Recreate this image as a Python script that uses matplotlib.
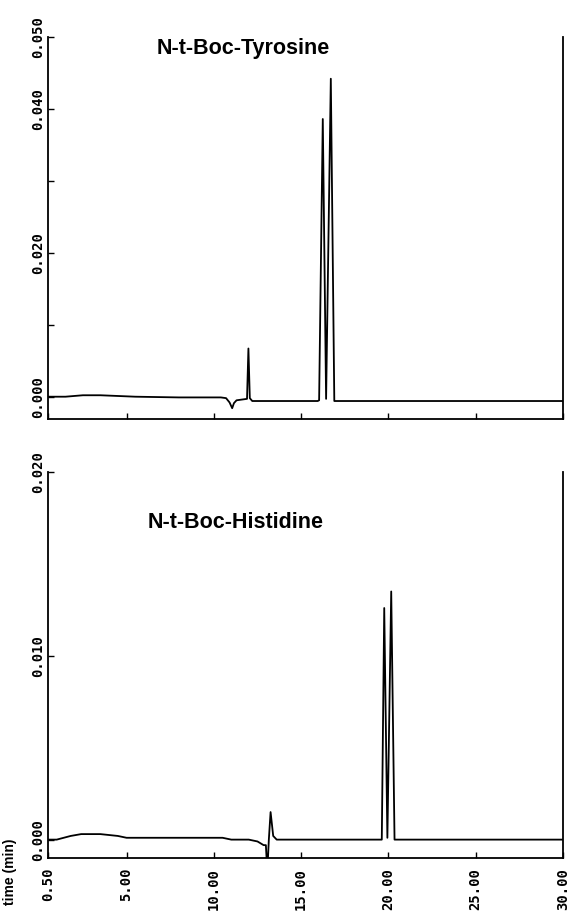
import matplotlib.pyplot as plt

# N-t-Boc-Tyrosine trace (time in min, absorbance)
tyr_time = [0.5, 1.5, 2.5, 3.5, 4.5, 5.5, 8.0, 10.4, 10.7, 10.9, 11.05, 11.15, 11.3,
            11.6, 11.9, 11.98, 12.06, 12.2, 14.0, 15.95, 16.03, 16.24, 16.43, 16.70,
            16.90, 17.5, 20.0, 25.0, 30.0]
tyr_abs = [0.0000, 0.0000, 0.0002, 0.0002, 0.0001, 0.0000, -0.0001, -0.0001, -0.0002,
           -0.0008, -0.0016, -0.0009, -0.0005, -0.0004, -0.0003, 0.0067, -0.0002,
           -0.0006, -0.0006, -0.0006, -0.0005, 0.0386, -0.0003, 0.0442, -0.0006,
           -0.0006, -0.0006, -0.0006, -0.0006]

# N-t-Boc-Histidine trace
his_time = [0.5, 1.0, 1.8, 2.4, 3.5, 4.5, 5.0, 8.0, 10.5, 11.0, 12.0, 12.5, 12.85,
            12.98, 13.02, 13.1, 13.15, 13.25, 13.4, 13.6, 17.0, 19.5, 19.62, 19.76,
            19.94, 20.16, 20.35, 25.0, 30.0]
his_abs = [0.0000, 0.0000, 0.0002, 0.0003, 0.0003, 0.0002, 0.0001, 0.0001, 0.0001,
           0.0000, 0.0000, -0.0001, -0.0003, -0.0003, -0.0010, -0.0010, 0.0000,
           0.0015, 0.0002, 0.0000, 0.0000, 0.0000, 0.0000, 0.0126, 0.0001, 0.0135,
           0.0000, 0.0000, 0.0000]

xticks = [0.5, 5, 10, 15, 20, 25, 30]
xticklabels = ['0.50', '5.00', '10.00', '15.00', '20.00', '25.00', '30.00']
tyr_yticks = [0.0, 0.01, 0.02, 0.03, 0.04, 0.05]
tyr_yticklabels = ['0.000', '', '0.020', '', '0.040', '0.050']
his_yticks = [0.0, 0.01, 0.02]
his_yticklabels = ['0.000', '0.010', '0.020']

mono = {'family': 'DejaVu Sans Mono', 'weight': 'bold', 'size': 10}

fig = plt.figure(figsize=(5.69, 9.14), dpi=100)
ax1 = fig.add_axes([48/569, 1-419/914, 515/569, 382/914])
ax2 = fig.add_axes([48/569, 1-858/914, 515/569, 386/914])


def style(ax):
    ax.spines['top'].set_visible(False)
    for s in ['left', 'bottom', 'right']:
        ax.spines[s].set_linewidth(1.3)
    ax.set_xlim(0.5, 30)
    ax.set_xticks(xticks)
    ax.tick_params(direction='in', length=4.5, width=1.0)
    ax.tick_params(axis='y', pad=2)
    ax.tick_params(axis='x', pad=7)


ax1.plot(tyr_time, tyr_abs, color='black', lw=1.3)
style(ax1)
ax1.set_ylim(-0.0031, 0.050)
ax1.set_yticks(tyr_yticks)
ax1.set_yticklabels(tyr_yticklabels, rotation=90, va='center', fontdict=mono)
ax1.set_xticklabels([])
ax1.text(0.21, 0.969, 'N-t-Boc-Tyrosine', transform=ax1.transAxes, fontsize=15.5,
         fontweight='bold', family='Liberation Sans', va='center', ha='left')

ax2.plot(his_time, his_abs, color='black', lw=1.3)
style(ax2)
ax2.set_ylim(-0.001, 0.020)
ax2.set_yticks(his_yticks)
ax2.set_yticklabels(his_yticklabels, rotation=90, va='center', fontdict=mono)
ax2.set_xticklabels(xticklabels, rotation=90, fontdict=mono)
ax2.text(0.194, 0.87, 'N-t-Boc-Histidine', transform=ax2.transAxes, fontsize=15.5,
         fontweight='bold', family='Liberation Sans', va='center', ha='left')

fig.text(10/569, 1-872/914, 'time (min)', rotation=90, ha='center', va='center',
         fontsize=10, fontweight='bold', family='Liberation Sans')

fig.savefig('out.png', dpi=100)
